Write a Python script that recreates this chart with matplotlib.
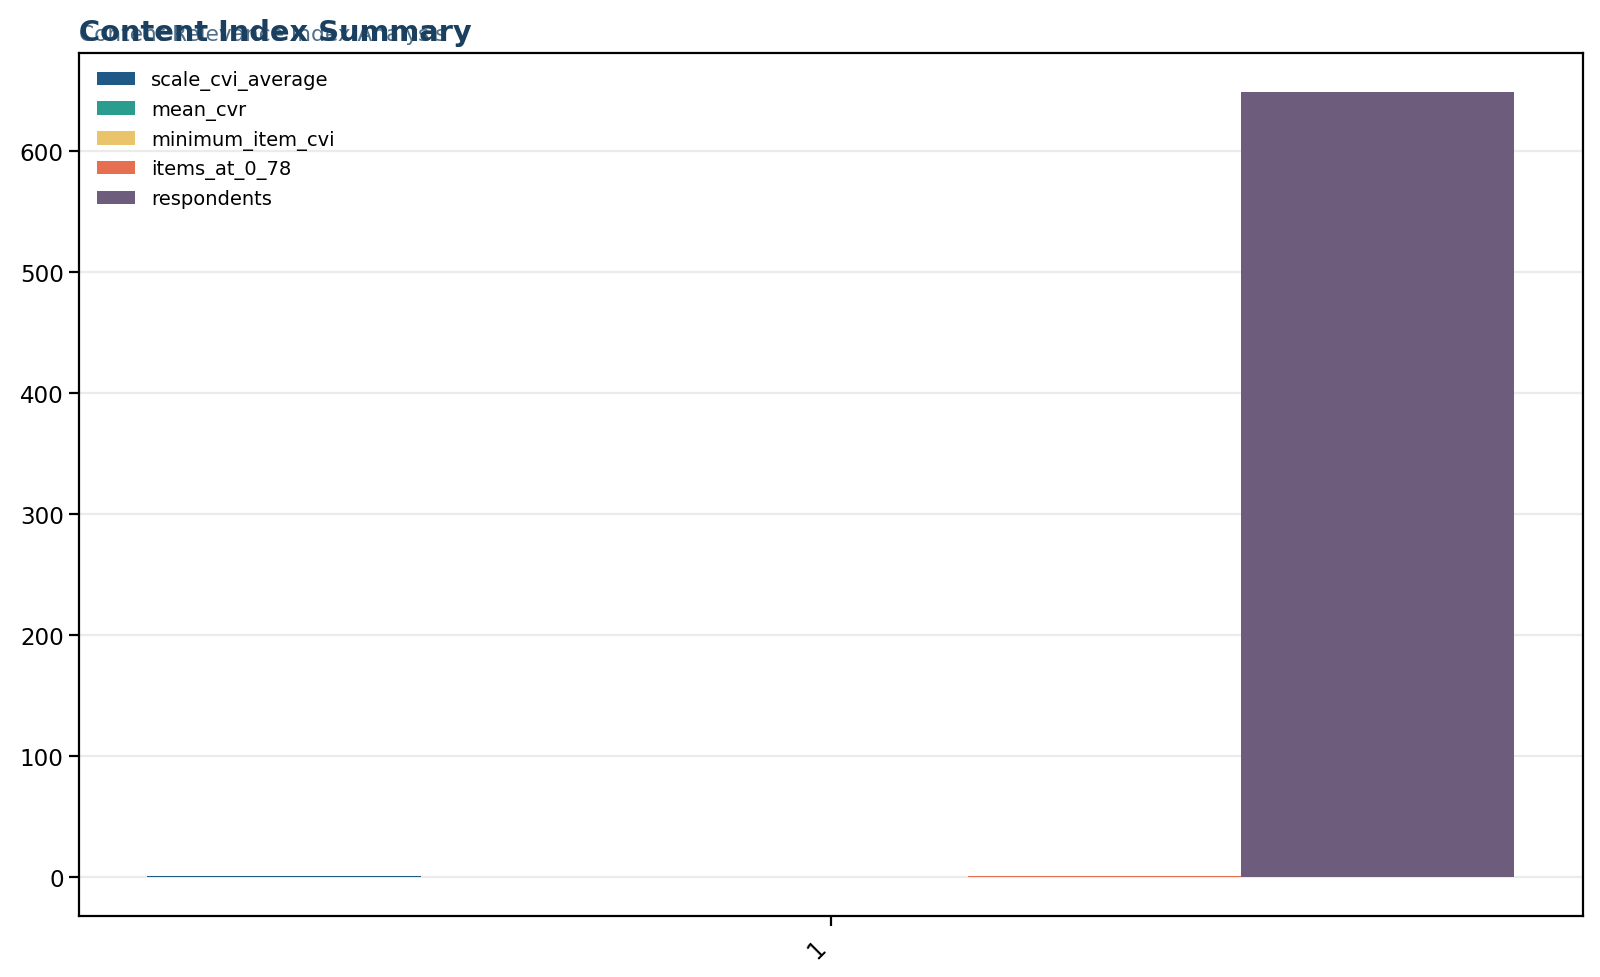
import numpy as np
import matplotlib
matplotlib.use("Agg")
import matplotlib.pyplot as plt

# donnees
categories = ["1"]
series = ["scale_cvi_average", "mean_cvr", "minimum_item_cvi", "items_at_0_78", "respondents"]
scale_cvi_average = [0.92]
mean_cvr = [0.1]
minimum_item_cvi = [0.1]
items_at_0_78 = [1]
respondents = [649]
colors = ["#1f5a87", "#2a9d8f", "#e9c46a", "#e76f51", "#6d5c7c"]

values = [scale_cvi_average, mean_cvr, minimum_item_cvi, items_at_0_78, respondents]

fig = plt.figure(figsize=(8, 4.89), dpi=200)
ax = fig.add_axes([0.0494, 0.0624, 0.9398, 0.8826])
ax.use_sticky_edges = False

x = np.arange(len(categories))
n = len(series)
w = 0.8 / n
for i, (name, vals) in enumerate(zip(series, values)):
    ax.bar(x - 0.4 + w / 2 + i * w, vals, width=w, color=colors[i],
           label=name, zorder=2)

ax.margins(x=0.05, y=0.05)
ax.set_xticks(x)
ax.set_xticklabels(categories, rotation=45, ha="right", fontsize=8.5)
ax.tick_params(axis="y", labelsize=8.3, pad=2)
ax.yaxis.grid(True, color="#ebebeb", linewidth=0.8)
ax.set_axisbelow(True)
for s in ax.spines.values():
    s.set_linewidth(0.8)

ax.legend(loc="upper left", frameon=False, fontsize=7)

# sous-titre et titre (ils se chevauchent dans l'original)
ax.text(0.0, 1.015, "Content Relevance Index Analysis", transform=ax.transAxes,
        fontsize=7.8, color="#4f6f8a", ha="left", va="baseline")
ax.text(0.0, 1.0145, "Content Index Summary", transform=ax.transAxes,
        fontsize=10.4, fontweight="bold", color="#1b3f5e", ha="left", va="baseline")

fig.savefig("out.png", dpi=200)
